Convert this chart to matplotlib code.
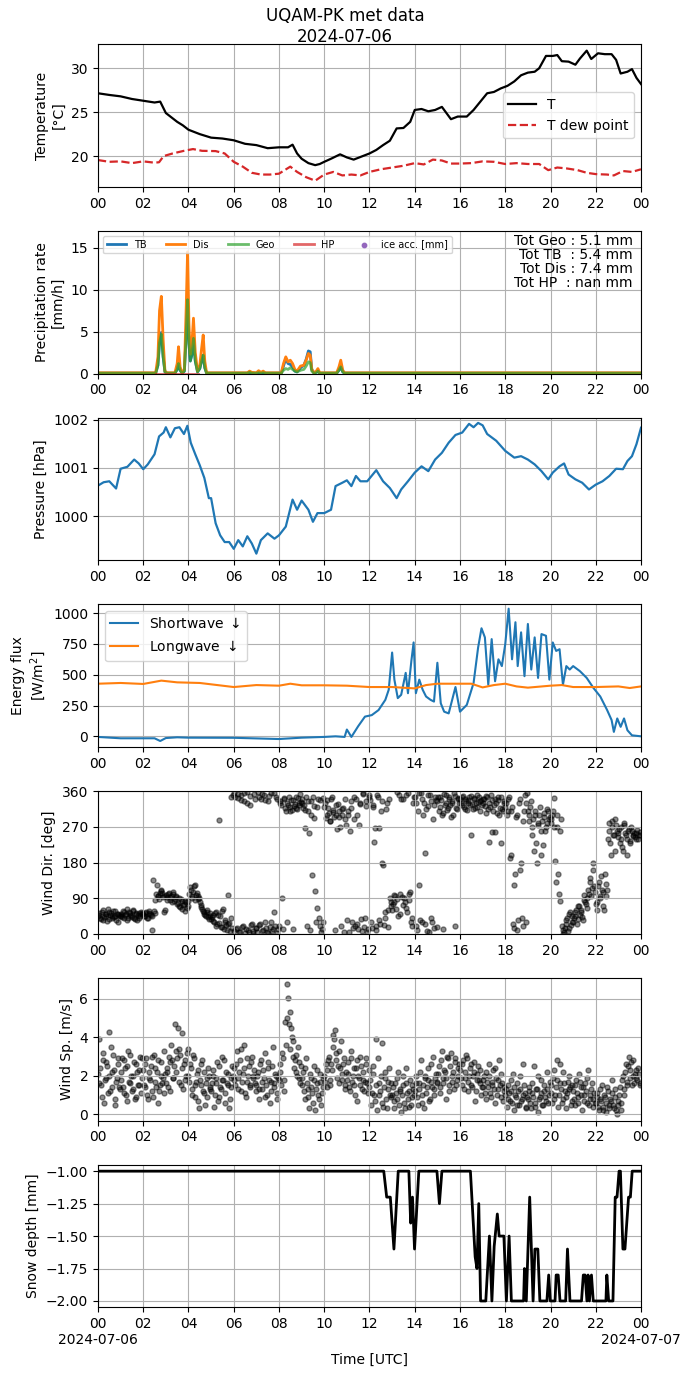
import numpy as np
import matplotlib
matplotlib.use('Agg')
import matplotlib.pyplot as plt

# ---- temperature (hours UTC, degC) ----
t_hr = [0, 0.5, 1, 1.5, 2, 2.5, 2.75, 3, 3.25, 3.5, 3.75, 4, 4.5, 5, 5.5, 6, 6.5, 7, 7.5, 8,
        8.4, 8.6, 8.8, 9, 9.3, 9.6, 9.8, 10, 10.3, 10.7, 11, 11.3, 11.6, 12, 12.3, 12.6, 12.9,
        13.2, 13.5, 13.8, 14, 14.3, 14.6, 14.9, 15.2, 15.4, 15.6, 15.9, 16.3, 16.6, 16.9, 17.2,
        17.5, 17.8, 18.1, 18.4, 18.7, 19.0, 19.3, 19.5, 19.8, 20.1, 20.3, 20.5, 20.8, 21.1,
        21.3, 21.6, 21.8, 22.1, 22.4, 22.7, 22.9, 23.1, 23.4, 23.6, 23.8, 24]
temp = [27.15, 26.96, 26.8, 26.5, 26.3, 26.1, 26.2, 24.9, 24.4, 23.9, 23.5, 23.0, 22.5, 22.1,
        22.0, 21.8, 21.4, 21.25, 20.9, 21.0, 21.0, 21.3, 20.3, 19.7, 19.2, 18.97, 19.1, 19.35,
        19.7, 20.2, 19.85, 19.6, 19.9, 20.3, 20.7, 21.25, 21.75, 23.15, 23.2, 23.9, 25.25,
        25.36, 25.1, 25.25, 25.6, 24.9, 24.2, 24.5, 24.5, 25.25, 26.2, 27.15, 27.3, 27.7, 28.0,
        28.5, 29.2, 29.5, 29.6, 30.0, 31.4, 31.4, 31.5, 30.8, 30.75, 30.4, 31.1, 32.0, 31.05,
        31.7, 31.6, 31.6, 30.95, 29.4, 29.6, 29.9, 28.9, 28.2]

td_hr = [0, 0.5, 1, 1.5, 2, 2.5, 2.7, 2.9, 3.3, 3.8, 4.2, 4.6, 5.2, 5.6, 6, 6.4, 6.8, 7.2, 7.6,
         8, 8.5, 8.8, 9.2, 9.6, 10, 10.4, 10.8, 11.2, 11.6, 12, 12.5, 13, 13.5, 14, 14.4, 14.8,
         15.2, 15.6, 16, 16.5, 17, 17.5, 18, 18.5, 19, 19.5, 19.9, 20.3, 20.7, 21.2, 21.6, 22,
         22.5, 22.8, 23.2, 23.6, 24]
tdew = [19.55, 19.35, 19.4, 19.2, 19.4, 19.25, 19.3, 20.0, 20.3, 20.6, 20.8, 20.6, 20.57, 20.3,
        19.35, 18.8, 18.1, 17.9, 17.9, 18.0, 18.8, 18.2, 17.6, 17.2, 17.9, 18.2, 17.8, 17.9,
        17.8, 18.2, 18.5, 18.7, 18.9, 19.2, 19.05, 19.6, 19.5, 19.15, 19.15, 19.2, 19.4, 19.35,
        19.1, 19.2, 19.1, 19.1, 18.4, 18.7, 18.6, 18.4, 18.1, 17.95, 17.9, 17.8, 18.3, 18.2, 18.5]

# ---- precipitation rate (mm/h) ----
prc_hr = [0, 2.55, 2.65, 2.72, 2.8, 2.88, 2.96, 3.05, 3.4, 3.5, 3.56, 3.63, 3.72, 3.82, 3.9,
          3.96, 4.02, 4.08, 4.15, 4.22, 4.3, 4.4, 4.5, 4.58, 4.65, 4.72, 4.8, 6.6, 6.7, 6.8, 7.0,
          7.1, 7.2, 7.3, 7.4, 8.1, 8.2, 8.3, 8.4, 8.5, 8.6, 8.7, 8.8, 8.95, 9.1, 9.2, 9.3, 9.38,
          9.45, 9.55, 9.65, 9.72, 9.8, 10.55, 10.65, 10.73, 10.82, 10.9, 24]
prc_dis = [0.1, 0.1, 2.0, 7.5, 9.2, 4.0, 0.3, 0.1, 0.1, 1.2, 3.2, 0.8, 0.1, 0.5, 8.0, 14.5, 6.0,
           2.3, 3.5, 6.6, 2.5, 0.3, 1.0, 3.0, 4.6, 1.5, 0.1, 0.1, 0.3, 0.15, 0.1, 0.35, 0.15, 0.3,
           0.1, 0.1, 1.2, 2.0, 1.4, 1.6, 1.2, 0.5, 0.3, 0.9, 1.0, 1.6, 2.4, 2.2, 0.5, 0.1, 0.3,
           0.6, 0.1, 0.1, 0.8, 1.6, 0.4, 0.1, 0.1]
prc_tb = [0.05, 0.05, 1.0, 3.8, 4.9, 2.0, 0.2, 0.05, 0.05, 0.5, 1.3, 0.4, 0.05, 0.3, 4.8, 8.6,
          3.5, 1.5, 2.2, 4.0, 1.5, 0.2, 0.6, 1.5, 2.2, 0.7, 0.05, 0.05, 0.1, 0.05, 0.05, 0.1,
          0.05, 0.1, 0.05, 0.05, 0.9, 1.8, 1.2, 1.1, 0.8, 0.3, 0.2, 0.7, 1.0, 1.7, 2.7, 2.6, 0.5,
          0.05, 0.2, 0.3, 0.05, 0.05, 0.4, 0.8, 0.2, 0.05, 0.05]
prc_geo = [0.05, 0.05, 1.0, 3.7, 4.7, 2.0, 0.2, 0.05, 0.05, 0.5, 1.2, 0.4, 0.05, 0.3, 4.9, 8.8,
           3.6, 1.5, 2.3, 4.2, 1.5, 0.2, 0.6, 1.5, 2.2, 0.7, 0.05, 0.05, 0.15, 0.05, 0.05, 0.1,
           0.05, 0.1, 0.05, 0.05, 0.4, 0.6, 0.5, 0.7, 0.5, 0.3, 0.2, 0.4, 0.5, 0.9, 1.4, 1.3,
           0.3, 0.05, 0.1, 0.3, 0.05, 0.05, 0.4, 0.8, 0.2, 0.05, 0.05]
hp_hr = [2.55, 4.4]
prc_hp = [0.0, 0.0]
totals_txt = ['Tot Geo : 5.1 mm', 'Tot TB  : 5.4 mm', 'Tot Dis : 7.4 mm', 'Tot HP  : nan mm']

# ---- pressure (hPa) ----
p_hr = [0, 0.25, 0.5, 0.8, 1.0, 1.3, 1.6, 1.8, 2.0, 2.2, 2.5, 2.7, 2.9, 3.0, 3.2, 3.4, 3.6,
        3.8, 3.95, 4.1, 4.3, 4.5, 4.7, 4.9, 5.0, 5.2, 5.4, 5.6, 5.8, 6.0, 6.2, 6.4, 6.6, 6.8,
        7.0, 7.2, 7.5, 7.8, 8.0, 8.3, 8.6, 8.8, 9.0, 9.3, 9.5, 9.7, 10.0, 10.3, 10.5, 10.8,
        11.0, 11.2, 11.4, 11.6, 11.9, 12.3, 12.6, 12.9, 13.2, 13.4, 13.7, 14.0, 14.3, 14.6,
        14.9, 15.2, 15.5, 15.8, 16.1, 16.4, 16.6, 16.8, 17.0, 17.2, 17.6, 18.0, 18.4, 18.7,
        19.0, 19.3, 19.6, 19.9, 20.1, 20.4, 20.6, 20.8, 21.1, 21.4, 21.7, 22.0, 22.3, 22.6,
        22.9, 23.2, 23.4, 23.6, 23.8, 24]
pres = [1000.63, 1000.70, 1000.72, 1000.57, 1000.98, 1001.02, 1001.17, 1001.09, 1000.97,
        1001.07, 1001.28, 1001.65, 1001.73, 1001.84, 1001.63, 1001.82, 1001.84, 1001.70,
        1001.87, 1001.52, 1001.28, 1001.05, 1000.79, 1000.37, 1000.37, 999.85, 999.60, 999.46,
        999.46, 999.32, 999.50, 999.37, 999.58, 999.43, 999.22, 999.50, 999.64, 999.53, 999.60,
        999.78, 1000.34, 1000.13, 1000.32, 1000.13, 999.88, 1000.06, 1000.06, 1000.13, 1000.62,
        1000.69, 1000.74, 1000.62, 1000.83, 1000.72, 1000.72, 1000.95, 1000.72, 1000.58,
        1000.37, 1000.55, 1000.72, 1000.90, 1001.03, 1000.93, 1001.17, 1001.31, 1001.52,
        1001.68, 1001.73, 1001.91, 1001.84, 1001.93, 1001.88, 1001.70, 1001.56, 1001.35,
        1001.21, 1001.24, 1001.17, 1001.07, 1000.93, 1000.76, 1000.90, 1001.03, 1001.09,
        1000.86, 1000.76, 1000.69, 1000.55, 1000.65, 1000.72, 1000.83, 1000.98, 1000.97,
        1001.14, 1001.24, 1001.49, 1001.83]

# ---- radiation (W/m2) ----
sw_hr = [0, 1, 2.5, 2.75, 3, 3.5, 4, 6, 8, 9, 10, 10.5, 10.9, 11.0, 11.2, 11.5, 11.8, 12.1,
         12.4, 12.7, 12.85, 13.0, 13.1, 13.25, 13.4, 13.6, 13.7, 13.85, 13.95, 14.05, 14.2,
         14.35, 14.5, 14.7, 14.85, 15.0, 15.15, 15.3, 15.5, 15.8, 16.0, 16.3, 16.6, 16.8,
         16.95, 17.1, 17.25, 17.4, 17.55, 17.7, 17.85, 18.0, 18.15, 18.3, 18.45, 18.55, 18.7,
         18.85, 19.0, 19.15, 19.3, 19.45, 19.6, 19.8, 19.95, 20.1, 20.25, 20.4, 20.55, 20.7,
         20.85, 21.0, 21.3, 21.6, 21.9, 22.2, 22.5, 22.7, 22.8, 22.95, 23.1, 23.25, 23.4, 23.6,
         24]
sw_down = [-5, -16, -16, -38, -14, -8, -11, -12, -22, -11, -5, 0, -5, 55, -5, 82, 160, 172, 213,
           296, 378, 680, 460, 310, 337, 515, 350, 611, 762, 350, 460, 378, 323, 296, 282, 597,
           268, 200, 186, 400, 200, 255, 433, 720, 877, 803, 419, 789, 447, 625, 570, 748,
           1036, 625, 926, 570, 844, 488, 912, 542, 803, 474, 830, 816, 460, 762, 693, 707, 419,
           570, 542, 570, 529, 474, 392, 323, 214, 132, 36, 145, 77, 145, 49, 8, 0]
lw_hr = [0, 1, 2, 2.8, 3.5, 4.5, 5.5, 6, 7, 8, 8.5, 9, 10, 11, 12, 13, 14, 14.5, 15, 16, 16.5,
         17, 17.5, 18, 18.5, 19, 20, 20.5, 21, 22, 23, 23.5, 24]
lw_down = [427, 433, 425, 452, 438, 433, 411, 400, 416, 411, 427, 414, 414, 411, 400, 400, 389,
           416, 427, 427, 427, 397, 416, 427, 405, 395, 411, 416, 400, 400, 405, 392, 405]

# ---- wind: two interleaved series, each sampled every 4 min (15 per hour row) ----
wdir_a = [
    45, 52, 38, 60, 42, 50, 33, 55, 47, 40, 58, 44, 36, 51, 48,
    50, 42, 55, 47, 62, 39, 53, 45, 58, 41, 49, 36, 54, 46, 52,
    50, 44, 56, 41, 53, 47, 9, 58, 86, 124, 95, 103, 108, 92, 56,
    98, 85, 104, 92, 80, 100, 88, 95, 78, 70, 88, 62, 75, 84, 66,
    82, 118, 95, 105, 124, 98, 88, 90, 72, 63, 55, 48, 60, 42, 52,
    38, 47, 30, 56, 25, 288, 45, 18, 62, 35, 22, 99, 28, 40, 15,
    8, 345, 15, 352, 4, 338, 20, 355, 12, 330, 6, 348, 25, 2, 340,
    14, 358, 22, 340, 8, 350, 30, 5, 335, 18, 355, 12, 56, 346, 3,
    20, 330, 90, 342, 318, 30, 325, 310, 338, 12, 322, 345, 315, 330, 352,
    330, 318, 267, 345, 310, 254, 335, 149, 322, 107, 65, 340, 20, 6, 30,
    320, 292, 338, 305, 284, 345, 312, 10, 300, 328, 296, 20, 315, 5, 340,
    35, 300, 260, 318, 15, 290, 340, 25, 275, 330, 8, 352, 40, 322, 12,
    345, 30, 320, 233, 10, 350, 267, 25, 335, 174, 55, 315, 18, 340, 70,
    60, 80, 95, 358, 45, 100, 340, 72, 90, 350, 55, 85, 105, 40, 330,
    345, 20, 310, 124, 355, 30, 330, 204, 8, 322, 350, 40, 290, 15, 338,
    335, 310, 345, 300, 12, 325, 350, 318, 340, 295, 330, 355, 20, 315, 342,
    340, 325, 347, 315, 335, 330, 345, 250, 328, 340, 318, 350, 332, 310, 338,
    330, 340, 305, 345, 233, 320, 338, 310, 258, 330, 345, 300, 229, 315, 335,
    320, 300, 340, 191, 310, 25, 124, 295, 10, 330, 160, 40, 285, 350, 30,
    310, 285, 335, 270, 208, 300, 180, 280, 320, 260, 225, 295, 270, 315, 290,
    280, 300, 343, 183, 270, 150, 82, 290, 10, 6, 25, 40, 15, 56, 30,
    30, 45, 60, 38, 70, 55, 42, 99, 80, 65, 110, 130, 95, 180, 120,
    75, 60, 132, 90, 110, 70, 150, 95, 240, 280, 200, 270, 250, 290, 260,
    255, 230, 270, 210, 280, 250, 240, 265, 235, 260, 250, 245, 255, 240, 250]
wdir_b = [
    48, 40, 55, 35, 50, 44, 62, 38, 53, 46, 42, 57, 49, 30, 45,
    44, 58, 40, 51, 35, 56, 48, 43, 60, 38, 52, 47, 41, 55, 50,
    46, 52, 40, 57, 49, 44, 135, 53, 100, 95, 88, 112, 104, 96, 60,
    92, 100, 86, 96, 105, 83, 92, 76, 90, 68, 82, 72, 58, 80, 70,
    100, 110, 90, 122, 85, 102, 95, 80, 68, 58, 50, 44, 56, 38, 46,
    42, 33, 52, 20, 48, 28, 18, 58, 12, 30, 10, 24, 8, 345, 350,
    355, 12, 342, 6, 350, 18, 335, 3, 358, 10, 326, 22, 8, 352, 15,
    5, 345, 26, 352, 10, 338, 16, 2, 348, 31, 8, 355, 20, 340, 12,
    335, 325, 12, 340, 310, 330, 345, 320, 312, 338, 328, 318, 343, 326, 333,
    340, 325, 312, 20, 335, 10, 300, 345, 292, 30, 320, 40, 338, 12, 343,
    330, 300, 318, 285, 340, 308, 295, 325, 265, 310, 270, 300, 318, 290, 275,
    310, 5, 335, 30, 345, 20, 300, 12, 328, 38, 355, 18, 335, 6, 350,
    338, 15, 325, 268, 20, 345, 35, 310, 180, 22, 40, 330, 60, 90, 80,
    75, 98, 62, 88, 350, 50, 92, 340, 80, 65, 355, 100, 30, 20, 345,
    330, 10, 355, 35, 340, 300, 25, 315, 350, 5, 335, 30, 325, 345, 18,
    345, 320, 338, 305, 352, 330, 312, 345, 325, 335, 300, 348, 318, 340, 330,
    330, 345, 320, 340, 312, 338, 325, 348, 315, 342, 330, 320, 345, 335, 325,
    340, 322, 348, 315, 330, 350, 258, 325, 340, 305, 338, 318, 345, 310, 330,
    330, 310, 345, 200, 320, 15, 150, 300, 35, 340, 180, 20, 310, 330, 355,
    300, 320, 250, 290, 310, 230, 275, 300, 200, 285, 305, 260, 280, 310, 295,
    290, 310, 270, 130, 300, 100, 260, 20, 0, 15, 35, 8, 50, 22, 45,
    40, 55, 25, 70, 48, 60, 35, 85, 75, 90, 100, 140, 115, 160, 105,
    80, 120, 95, 145, 105, 60, 125, 110, 260, 230, 285, 250, 210, 275, 245,
    265, 240, 220, 275, 255, 200, 260, 230, 270, 248, 255, 240, 262, 250, 258]
wspd_a = [
    2.1, 3.9, 1.5, 2.8, 0.6, 1.9, 2.5, 4.3, 1.2, 2.2, 3.1, 0.8, 1.7, 2.6, 1.4,
    1.8, 2.9, 1.1, 2.4, 0.7, 3.3, 1.6, 2.0, 1.3, 2.7, 0.9, 2.2, 1.5, 3.0, 1.9,
    2.3, 1.4, 2.9, 0.8, 1.9, 2.5, 1.2, 3.1, 1.7, 2.2, 0.6, 1.5, 2.7, 1.9, 1.1,
    1.6, 2.4, 3.0, 1.2, 2.8, 1.9, 4.7, 2.2, 4.5, 3.4, 1.5, 4.2, 2.6, 1.8, 3.2,
    2.0, 2.6, 1.3, 3.1, 0.9, 1.7, 2.3, 0.3, 1.5, 2.8, 1.1, 0.5, 1.9, 2.4, 1.4,
    1.2, 2.0, 0.4, 1.6, 2.7, 0.9, 1.4, 3.0, 1.8, 0.6, 2.2, 1.5, 0.3, 1.9, 2.5,
    2.4, 1.5, 3.3, 1.9, 2.8, 1.2, 2.1, 3.6, 0.9, 1.7, 2.5, 1.4, 3.0, 2.0, 1.6,
    1.5, 2.2, 0.8, 2.8, 1.3, 1.9, 3.2, 1.0, 2.4, 0.6, 1.7, 3.5, 1.4, 2.0, 1.1,
    1.8, 2.6, 3.2, 1.2, 4.8, 6.75, 6.05, 5.3, 4.5, 3.8, 2.4, 3.1, 2.0, 2.7, 1.6,
    1.5, 2.2, 0.8, 2.9, 1.3, 0.3, 1.9, 1.1, 2.5, 0.2, 1.6, 1.0, 2.1, 0.5, 1.4,
    2.0, 2.6, 1.4, 3.0, 1.8, 2.3, 4.1, 4.4, 3.2, 2.5, 1.6, 3.8, 2.1, 2.9, 1.3,
    1.8, 2.7, 1.2, 3.3, 2.0, 1.5, 2.4, 0.7, 1.9, 3.0, 1.3, 2.2, 1.7, 2.6, 1.1,
    1.4, 0.5, 2.1, 1.0, 3.9, 0.2, 1.6, 1.2, 3.7, 0.4, 1.9, 0.8, 1.3, 2.4, 0.9,
    1.0, 0.3, 1.6, 0.8, 2.2, 1.2, 0.1, 1.5, 0.6, 2.4, 1.1, 0.4, 1.8, 0.9, 1.3,
    1.2, 2.0, 0.5, 1.6, 2.8, 1.0, 0.3, 1.9, 1.4, 2.4, 0.8, 1.7, 3.0, 1.3, 2.1,
    1.7, 2.5, 1.1, 3.3, 1.9, 2.2, 0.8, 2.9, 1.5, 3.2, 2.0, 1.3, 2.7, 1.8, 2.4,
    2.3, 1.5, 2.8, 1.9, 3.1, 1.2, 2.0, 2.6, 1.4, 2.2, 0.7, 1.8, 2.5, 1.6, 1.0,
    1.4, 2.0, 0.8, 1.7, 2.6, 1.1, 1.5, 2.3, 0.6, 1.9, 1.3, 2.8, 0.9, 1.6, 1.2,
    1.0, 0.4, 1.5, 0.7, 1.2, 2.1, 0.2, 0.9, 1.6, 0.5, 1.3, 0.8, 2.6, 1.1, 0.3,
    0.8, 1.4, 0.3, 1.1, 2.5, 0.6, 1.3, 0.1, 0.9, 1.8, 0.5, 1.2, 0.7, 2.2, 1.0,
    1.5, 0.6, 2.3, 1.0, 1.8, 0.4, 2.6, 1.3, 0.8, 1.6, 0.3, 1.1, 2.0, 1.4, 0.7,
    1.2, 0.5, 1.8, 0.9, 2.1, 1.4, 0.2, 1.0, 1.6, 0.6, 2.3, 0.8, 1.3, 0.4, 1.1,
    0.6, 1.1, 0.2, 0.8, 1.5, 0.4, 0.9, 0.1, 1.2, 0.5, 0.7, 1.8, 0.3, 0.9, 0.0,
    0.5, 1.4, 0.2, 2.0, 1.0, 2.6, 1.7, 3.0, 2.3, 1.5, 2.8, 2.1, 1.9, 2.4, 1.6]
wspd_b = [
    1.6, 2.4, 0.9, 3.2, 1.8, 2.7, 1.1, 2.0, 3.5, 1.4, 2.3, 0.5, 1.9, 2.9, 1.3,
    2.2, 1.4, 2.8, 1.0, 2.5, 1.7, 3.1, 1.2, 2.0, 0.8, 2.6, 1.5, 2.3, 1.1, 2.9,
    1.5, 2.6, 1.0, 2.2, 1.8, 3.0, 0.9, 2.4, 1.4, 2.8, 1.2, 2.0, 1.6, 3.3, 2.1,
    2.2, 1.4, 2.7, 3.6, 1.9, 2.5, 3.3, 2.9, 1.7, 3.1, 2.4, 1.3, 2.8, 2.0, 3.4,
    1.7, 2.4, 1.0, 2.9, 1.5, 2.1, 0.7, 1.8, 2.6, 1.2, 2.2, 1.6, 0.9, 2.0, 1.3,
    1.6, 2.3, 1.0, 1.9, 0.7, 2.5, 1.3, 1.8, 2.8, 1.1, 1.6, 2.1, 0.8, 1.4, 2.0,
    1.8, 2.6, 1.3, 2.2, 3.4, 1.7, 2.4, 1.1, 2.9, 2.0, 1.5, 2.7, 1.9, 2.3, 1.2,
    2.0, 1.3, 2.6, 1.7, 2.3, 0.9, 1.5, 2.7, 1.8, 1.2, 2.5, 1.6, 2.1, 0.8, 1.9,
    2.2, 1.5, 2.9, 1.8, 3.6, 5.0, 4.7, 3.4, 4.0, 3.0, 2.8, 2.2, 3.5, 1.9, 2.5,
    1.9, 1.2, 2.4, 1.6, 0.9, 2.1, 1.4, 0.6, 1.8, 1.3, 2.3, 0.8, 1.7, 1.1, 1.9,
    1.7, 2.3, 2.8, 1.5, 2.6, 3.5, 3.9, 2.8, 1.9, 3.3, 2.4, 1.8, 2.6, 1.5, 2.2,
    2.1, 1.4, 2.9, 1.7, 2.4, 1.0, 2.8, 2.0, 1.5, 2.5, 1.8, 1.2, 2.9, 1.6, 2.3,
    1.8, 1.1, 2.5, 0.7, 1.5, 2.9, 1.0, 2.0, 0.6, 1.4, 2.2, 0.3, 1.7, 1.0, 1.6,
    1.4, 0.7, 1.1, 1.9, 0.5, 1.3, 1.0, 2.0, 0.3, 1.6, 0.8, 1.2, 0.5, 1.5, 1.0,
    1.6, 0.9, 1.3, 2.2, 0.6, 1.5, 2.0, 1.1, 1.8, 0.7, 2.6, 1.4, 1.0, 1.9, 1.6,
    2.1, 1.4, 2.8, 1.6, 2.3, 1.9, 3.0, 1.2, 2.5, 1.7, 2.2, 2.9, 1.5, 2.0, 2.6,
    1.9, 2.6, 1.3, 2.2, 2.9, 1.7, 2.4, 1.5, 2.0, 2.7, 1.2, 2.1, 1.8, 2.3, 1.4,
    1.8, 1.1, 2.2, 1.4, 2.0, 0.9, 1.7, 1.3, 2.4, 1.0, 1.8, 1.5, 2.1, 0.7, 1.4,
    1.3, 0.8, 1.1, 1.8, 0.6, 1.4, 1.0, 0.5, 1.2, 2.0, 0.7, 1.0, 1.5, 0.4, 0.9,
    1.2, 0.6, 1.6, 0.9, 0.4, 1.3, 2.0, 0.8, 1.1, 0.5, 1.5, 0.9, 1.3, 0.6, 1.7,
    1.1, 1.9, 0.8, 1.4, 2.8, 1.0, 1.6, 0.6, 2.2, 1.2, 0.9, 1.7, 1.3, 0.5, 1.5,
    0.8, 1.5, 1.1, 0.6, 1.7, 1.0, 1.4, 0.7, 1.2, 1.9, 0.5, 1.0, 1.6, 0.8, 0.6,
    0.9, 0.4, 1.3, 0.7, 0.2, 1.0, 0.6, 1.4, 0.3, 0.8, 1.1, 0.5, 1.3, 0.2, 0.7,
    1.0, 0.6, 1.8, 1.3, 2.2, 1.5, 2.5, 1.9, 2.7, 2.0, 1.6, 2.3, 1.8, 2.1, 1.5]

# ---- snow depth (mm) ----
sd_hr = [0, 12.63, 12.76, 12.92, 13.08, 13.27, 13.74, 13.82, 13.9, 13.99, 14.18, 14.98, 15.09,
         15.2, 16.46, 16.67, 16.75, 16.83, 16.91, 17.14, 17.30, 17.41, 17.51, 17.65, 17.73,
         17.94, 18.05, 18.17, 18.27, 18.81, 18.85, 18.93, 19.08, 19.23, 19.31, 19.44, 19.53,
         19.84, 19.92, 19.99, 20.20, 20.25, 20.34, 20.42, 20.67, 20.75, 20.86, 21.37, 21.45,
         21.53, 21.61, 21.66, 21.72, 21.81, 21.89, 22.45, 22.49, 22.57, 22.76, 22.86, 22.94,
         23.03, 23.09, 23.2, 23.29, 23.45, 23.53, 23.61, 24]
snow = [-1.0, -1.0, -1.2, -1.2, -1.6, -1.0, -1.0, -1.4, -1.2, -1.6, -1.0, -1.0, -1.25, -1.0,
        -1.0, -1.66, -1.75, -1.25, -2.0, -2.0, -1.5, -2.0, -1.58, -1.33, -1.5, -1.5, -2.0, -1.5,
        -2.0, -2.0, -1.75, -2.0, -1.2, -2.0, -1.6, -1.6, -2.0, -2.0, -1.8, -2.0, -2.0, -1.8,
        -1.8, -2.0, -2.0, -1.6, -2.0, -2.0, -1.8, -1.8, -2.0, -1.8, -2.0, -1.8, -2.0, -2.0,
        -1.8, -2.0, -2.0, -1.2, -1.2, -1.0, -1.0, -1.6, -1.6, -1.2, -1.2, -1.0, -1.0]

tick_hours = list(range(0, 25, 2))
tick_lbls = ['00', '02', '04', '06', '08', '10', '12', '14', '16', '18', '20', '22', '00']
day_start = '2024-07-06'
day_end = '2024-07-07'

fig, axs = plt.subplots(7, 1, figsize=(6.9, 13.77), dpi=100)
fig.subplots_adjust(left=0.142, right=0.929, top=0.968, bottom=0.0505, hspace=0.308)
fig.suptitle('UQAM-PK met data\n' + day_start, y=0.995, fontsize=12)

# temperature
ax = axs[0]
ax.plot(t_hr, temp, color='k', lw=1.6, label='T')
ax.plot(td_hr, tdew, color='tab:red', ls='--', lw=1.6, label='T dew point')
ax.set_ylim(16.5, 32.75)
ax.set_ylabel('Temperature\n[°C]')
ax.legend(loc='center right')

# precipitation
ax = axs[1]
ax.plot(prc_hr, prc_tb, color='tab:blue', lw=2, label='TB')
ax.plot(prc_hr, prc_dis, color='tab:orange', lw=2, label='Dis')
ax.plot(prc_hr, prc_geo, color='tab:green', lw=2, alpha=0.7, label='Geo')
ax.plot(hp_hr, prc_hp, color='tab:red', lw=2, alpha=0.7, label='HP')
ax.scatter([], [], color='tab:purple', s=10, label='ice acc. [mm]')
ax.set_ylim(0, 17)
ax.set_ylabel('Precipitation rate\n[mm/h]')
ax.legend(loc='upper left', ncol=5, fontsize=7)
ax.text(0.985, 0.975, '\n'.join(totals_txt), transform=ax.transAxes,
        ha='right', va='top', fontsize=10, linespacing=1.0)

# pressure
ax = axs[2]
ax.plot(p_hr, pres, color='tab:blue', lw=1.6)
ax.set_ylim(999.08, 1002.04)
ax.set_yticks([1000, 1001, 1002])
ax.set_ylabel('Pressure [hPa]')

# radiation
ax = axs[3]
ax.plot(sw_hr, sw_down, color='tab:blue', lw=1.5, label='Shortwave $\\downarrow$')
ax.plot(lw_hr, lw_down, color='tab:orange', lw=1.5, label='Longwave $\\downarrow$')
ax.set_ylim(-88, 1071)
ax.set_yticks([0, 250, 500, 750, 1000])
ax.set_ylabel('Energy flux\n[W/m$^2$]')
ax.legend(loc='upper left')

# wind
wa_hr = np.arange(len(wdir_a)) * 4 / 60
wb_hr = wa_hr + 2 / 60
ax = axs[4]
ax.scatter(wa_hr, wdir_a, color='k', s=13, alpha=0.45)
ax.scatter(wb_hr, wdir_b, color='k', s=13, alpha=0.45)
ax.set_ylim(0, 360)
ax.set_yticks([0, 90, 180, 270, 360])
ax.set_ylabel('Wind Dir. [deg]')

ax = axs[5]
ax.scatter(wa_hr, wspd_a, color='k', s=13, alpha=0.45)
ax.scatter(wb_hr, wspd_b, color='k', s=13, alpha=0.45)
ax.set_ylabel('Wind Sp. [m/s]')
ax.set_yticks([0, 2, 4, 6])

# snow depth
ax = axs[6]
ax.plot(sd_hr, snow, color='k', lw=2)
ax.set_yticks([-1.0, -1.25, -1.5, -1.75, -2.0])
ax.set_ylim(-2.05, -0.95)
ax.set_ylabel('Snow depth [mm]')
ax.set_xlabel('Time [UTC]')

for i, ax in enumerate(axs):
    ax.set_xlim(0, 24)
    ax.set_xticks(tick_hours)
    if i == 6:
        lbls = list(tick_lbls)
        lbls[0] = '00\n' + day_start
        lbls[-1] = '00\n' + day_end
        ax.set_xticklabels(lbls)
    else:
        ax.set_xticklabels(tick_lbls)
    ax.grid(True)

fig.savefig('out.png', dpi=100)
